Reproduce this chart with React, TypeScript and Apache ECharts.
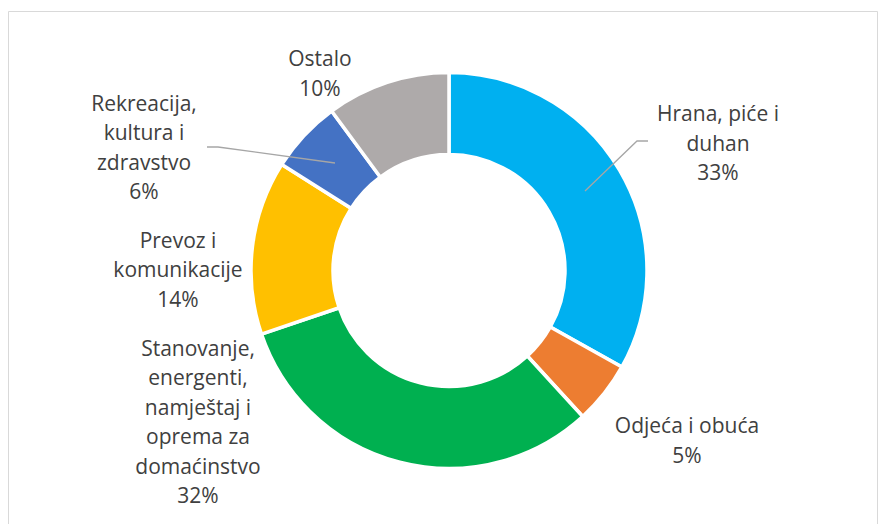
import React, { useEffect, useRef } from "react";
import * as echarts from "echarts";

const categories = [
  "Hrana, piće i\nduhan",
  "Odjeća i obuća",
  "Stanovanje,\nenergenti,\nnamještaj i\noprema za\ndomaćinstvo",
  "Prevoz i\nkomunikacije",
  "Rekreacija,\nkultura i\nzdravstvo",
  "Ostalo",
];
const values = [33.1, 5.1, 31.6, 14.2, 5.9, 10.1];
const colors = ["#00B0F0", "#ED7D31", "#00B050", "#FFC000", "#4472C4", "#AEAAAA"];

// label anchor positions (layout only)
const labelPos: [number, number][] = [
  [718, 142.5],
  [687, 440],
  [198, 421.5],
  [178, 269],
  [144, 147],
  [320, 73],
];
const leaderLines: number[][][] = [
  [[585, 191], [637, 141], [648, 141]],
  [[335, 163], [218, 147], [207, 147]],
];

export default function App() {
  const ref = useRef<HTMLDivElement>(null);
  useEffect(() => {
    document.body.style.margin = "0";
    const chart = echarts.init(ref.current!, undefined, { renderer: "svg" });
    const total = values.reduce((a, b) => a + b, 0);
    chart.setOption({
      animation: false,
      backgroundColor: "#ffffff",
      graphic: [
        {
          type: "rect",
          shape: { x: 8.5, y: 11.5, width: 869, height: 530 },
          style: { fill: "none", stroke: "#d9d9d9", lineWidth: 1 },
          silent: true,
          z: -1,
        },
        ...leaderLines.map((pts) => ({
          type: "polyline",
          shape: { points: pts },
          style: { fill: "none", stroke: "#a6a6a6", lineWidth: 1.3 },
          silent: true,
          z: 100,
        })),
      ],
      series: [
        {
          type: "pie",
          center: [449, 270.5],
          radius: [116, 198],
          startAngle: 90,
          clockwise: true,
          avoidLabelOverlap: false,
          itemStyle: { borderColor: "#ffffff", borderWidth: 3.5 },
          label: {
            show: true,
            position: "outside",
            fontFamily: "Open Sans",
            fontSize: 21,
            lineHeight: 29.5,
            color: "#404040",
            align: "center",
            formatter: (p: any) =>
              p.name + "\n" + Math.round((p.value / total) * 100) + "%",
          },
          labelLine: { show: false },
          labelLayout: (params: any) => {
            const i = params.dataIndex;
            return {
              x: labelPos[i][0],
              y: labelPos[i][1],
              align: "center",
              verticalAlign: "middle",
            };
          },
          data: categories.map((name, i) => ({
            name,
            value: values[i],
            itemStyle: { color: colors[i] },
          })),
        },
      ],
    });
    return () => chart.dispose();
  }, []);
  return <div ref={ref} style={{ width: 879, height: 524 }} />;
}
